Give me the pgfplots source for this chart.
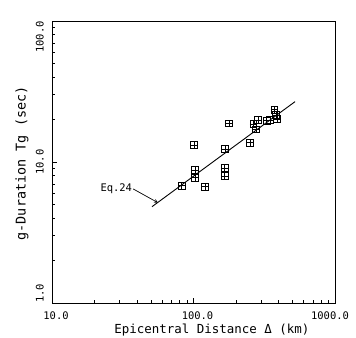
\documentclass[border=0pt]{standalone}
\usepackage{fontspec}
\setmainfont{DejaVu Sans Mono}
\usepackage{pgfplots}
\pgfplotsset{compat=1.18}
\pgfdeclareplotmark{boxplus}{%
  \pgfpathrectangle{\pgfqpoint{-\pgfplotmarksize}{-\pgfplotmarksize}}{\pgfqpoint{2\pgfplotmarksize}{2\pgfplotmarksize}}%
  \pgfpathmoveto{\pgfqpoint{-\pgfplotmarksize}{0pt}}\pgfpathlineto{\pgfqpoint{\pgfplotmarksize}{0pt}}%
  \pgfpathmoveto{\pgfqpoint{0pt}{-\pgfplotmarksize}}\pgfpathlineto{\pgfqpoint{0pt}{\pgfplotmarksize}}%
  \pgfusepathqstroke}
\begin{document}
\begin{tikzpicture}
\begin{axis}[
  at={(0,0)}, anchor=south west,
  scale only axis, width=283bp, height=282bp,
  xmode=log, ymode=log,
  xmin=10, xmax=1000, ymin=1, ymax=100,
  xtick={10,100,1000}, xticklabels={},
  ytick={1,10,100}, yticklabels={},
  xtick pos=left, ytick pos=left,
  tick align=inside,
  major tick length=5bp, minor tick length=3bp,
  axis line style={line width=0.8bp},
  every tick/.style={black, line width=0.6bp},
  xlabel={Epicentral Distance Δ (km)},
  ylabel={g-Duration Tg (sec)},
  xlabel style={font=\fontsize{12.5}{14}\selectfont, at={(axis description cs:0.565,0)}, anchor=center, yshift=-27bp},
  ylabel style={font=\fontsize{13.5}{15}\selectfont, at={(axis description cs:0,0.495)}, anchor=center, yshift=30bp},
  clip=false,
]
\addplot[only marks, mark=boxplus, mark size=3.4bp, mark options={line width=0.6bp}] coordinates {
  (82.6,6.79) (100.8,13.2) (102.5,8.78) (102.5,7.74) (120.5,6.68)
  (167,12.4) (165.6,9.07) (165.6,7.96) (178,18.8)
  (250.6,13.7) (264.6,18.6) (276.5,17.06) (285.6,19.9)
  (329,19.6) (347.5,19.9) (372.6,23.6) (383,21.5) (389,20.2)
};
\addplot[black, line width=0.9bp] coordinates {(50.9,4.82) (522,26.8)};
\node[font=\fontsize{10.5}{12.5}\selectfont, xshift=-8bp, rotate=90, anchor=south west, inner sep=0pt] at (axis cs:10,1) {1.0};
\node[font=\fontsize{10.5}{12.5}\selectfont, xshift=-8bp, rotate=90, anchor=south, inner sep=0pt] at (axis cs:10,10) {10.0};
\node[font=\fontsize{10.5}{12.5}\selectfont, xshift=-8bp, rotate=90, anchor=south east, inner sep=0pt] at (axis cs:10,100) {100.0};
\node[font=\fontsize{10.5}{12.5}\selectfont, anchor=center, xshift=4bp, yshift=-13bp] at (axis cs:10,1) {10.0};
\node[font=\fontsize{10.5}{12.5}\selectfont, anchor=center, xshift=4bp, yshift=-13bp] at (axis cs:100,1) {100.0};
\node[font=\fontsize{10.5}{12.5}\selectfont, anchor=center, xshift=-5bp, yshift=-13bp] at (axis cs:1000,1) {1000.0};
\node[font=\fontsize{10.5}{12}\selectfont, anchor=east, inner sep=1bp] (eq) at (axis cs:37.5,6.44) {Eq.24};
\draw[->, line width=0.7bp, >=stealth] (eq.east) -- (axis cs:56,5.15);
\end{axis}
\pgfresetboundingbox
\path[use as bounding box] (-52bp,-35bp) rectangle (304bp,303bp);
\end{tikzpicture}
\end{document}
